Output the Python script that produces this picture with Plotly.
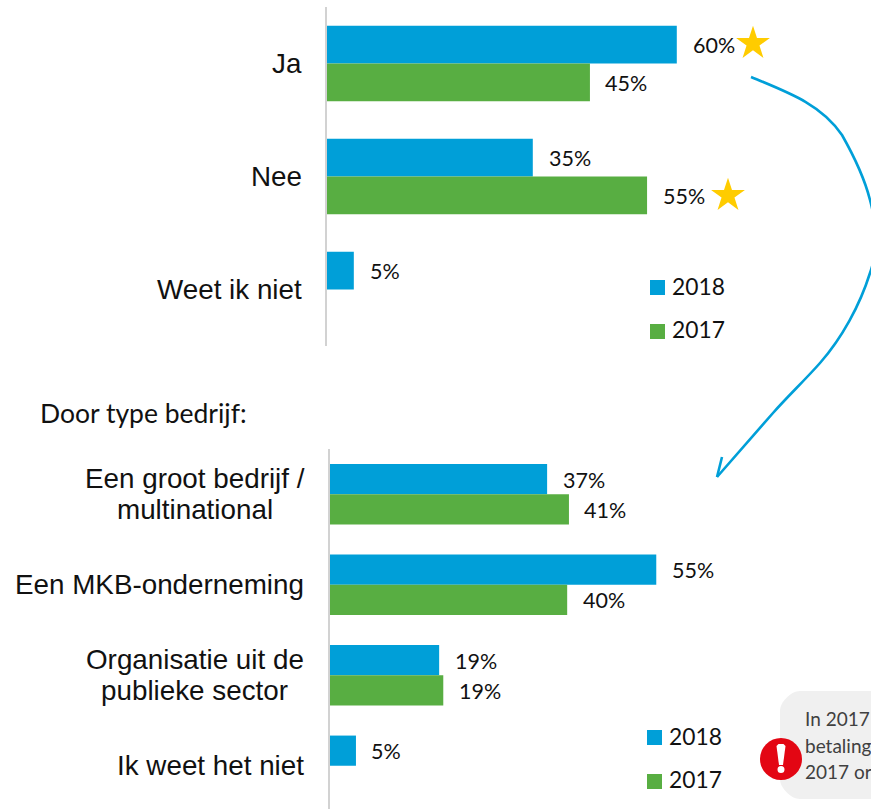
import math
import plotly.graph_objects as go

W, H = 871, 809
BLUE, GREEN = "#009FD8", "#58AE42"
STAR = "#FFCC00"
AXIS = "#D2D2D2"
SANS = "Liberation Sans"
CAL = "Lato"

series = ["2018", "2017"]
top_cats = ["Ja", "Nee", "Weet ik niet"]
top_2018 = [60.0, 35.3, 4.6]
top_2017 = [45.1, 54.9, None]
top_text_2018 = ["60%", "35%", "5%"]
top_text_2017 = ["45%", "55%", ""]

bot_cats = ["Een groot bedrijf / multinational", "Een MKB-onderneming",
            "Organisatie uit de publieke sector", "Ik weet het niet"]
bot_lines = [["Een groot bedrijf /", "multinational"], ["Een MKB-onderneming"],
             ["Organisatie uit de", "publieke sector"], ["Ik weet het niet"]]
bot_2018 = [36.8, 55.3, 18.5, 4.4]
bot_2017 = [40.5, 40.2, 19.2, None]
bot_text_2018 = ["37%", "55%", "19%", "5%"]
bot_text_2017 = ["41%", "40%", "19%", ""]

heading = "Door type bedrijf:"
note_lines = ["In 2017", "betaling", "2017 or"]


def px(x):
    return x / W


def py(y):
    return 1 - y / H


fig = go.Figure()
for ax, cats, v18, v17 in [("", top_cats, top_2018, top_2017), ("2", bot_cats, bot_2018, bot_2017)]:
    for name, vals, col in [(series[0], v18, BLUE), (series[1], v17, GREEN)]:
        fig.add_bar(y=cats, x=vals, name=name, orientation="h", marker=dict(color=col, line_width=0),
                    xaxis="x" + ax, yaxis="y" + ax, showlegend=False)

ann = []


def text(x, y, t, size, font=CAL, color="#111111", anchor="left"):
    ann.append(dict(x=px(x), y=py(y), xref="paper", yref="paper", text=t, showarrow=False, xanchor=anchor,
                    yanchor="middle", borderpad=0, font=dict(family=font, size=size, color=color)))


def values(cats, vals, labels, shift, xref, yref, gap):
    for c, v, t in zip(cats, vals, labels):
        if v is None:
            continue
        ann.append(dict(x=v, y=c, xref=xref, yref=yref, text=t, showarrow=False, xanchor="left", yanchor="middle",
                        xshift=gap, yshift=shift, borderpad=0, font=dict(family=CAL, size=21.5, color="#111111")))


values(top_cats, top_2018, top_text_2018, 19, "x", "y", 15)
values(top_cats, top_2017, top_text_2017, -19, "x", "y", 14.5)
values(bot_cats, bot_2018, bot_text_2018, 14.3, "x2", "y2", 14.5)
values(bot_cats, bot_2017, bot_text_2017, -15.7, "x2", "y2", 14.5)

for c in top_cats:
    ann.append(dict(x=px(303), y=c, xref="paper", yref="y", text=c, showarrow=False, xanchor="right",
                    yanchor="middle", borderpad=0, font=dict(family=SANS, size=27.8, color="#111111")))
for c, lines in zip(bot_cats, bot_lines):
    if len(lines) == 1:
        ann.append(dict(x=px(304.5), y=c, xref="paper", yref="y2", text=lines[0], showarrow=False, xanchor="right",
                        yanchor="middle", borderpad=0, font=dict(family=SANS, size=27.8, color="#111111")))
    else:
        for line, s in zip(lines, [15.5, -15.5]):
            ann.append(dict(x=px(194.5), y=c, xref="paper", yref="y2", text=line, showarrow=False, xanchor="center",
                            yanchor="middle", yshift=s, borderpad=0,
                            font=dict(family=SANS, size=27.8, color="#111111")))

text(39, 413, heading, 26.5)
text(671, 286, series[0], 22.8)
text(671, 329, series[1], 22.8)
text(668, 736, series[0], 22.8)
text(668, 779, series[1], 22.8)
for line, y in zip(note_lines, [718, 745, 771]):
    text(804, y, line, 19, color="#404040")


def poly(points):
    return "M" + " L".join(f"{px(x):.5f},{py(y):.5f}" for x, y in points) + " Z"


def star(cx, cy, r):
    pts = []
    for i in range(10):
        a = -math.pi / 2 + i * math.pi / 5
        rr = r if i % 2 == 0 else r * 0.382
        pts.append((cx + rr * math.cos(a), cy + rr * math.sin(a)))
    return poly(pts)


def rect(x0, y0, x1, y1, col):
    return dict(type="rect", xref="paper", yref="paper", x0=px(x0), x1=px(x1), y0=py(y0), y1=py(y1),
                fillcolor=col, line_width=0)


def curve(cmds):
    out = []
    for c, pts in cmds:
        out.append(c + " ".join(f"{px(x):.5f},{py(y):.5f}" for x, y in pts))
    return " ".join(out)


r = 20
x0, y0, x1, y1 = 780, 691, 900, 799
k = r * 0.45
box = curve([("M", [(x0 + r, y0)]), ("L", [(x1, y0)]), ("L", [(x1, y1)]), ("L", [(x0 + r, y1)]),
             ("C", [(x0 + r - k, y1), (x0, y1 - r + k), (x0, y1 - r)]), ("L", [(x0, y0 + r)]),
             ("C", [(x0, y0 + r - k), (x0 + r - k, y0), (x0 + r, y0)])]) + " Z"

arrow = curve([("M", [(751, 77)]),
               ("C", [(790, 93), (822, 105), (842, 135)]),
               ("C", [(855, 158), (865, 180), (870, 200)]),
               ("C", [(878, 230), (878, 250), (870, 273)]),
               ("C", [(860, 305), (842, 338), (820, 363)]),
               ("C", [(805, 380), (787, 397), (773, 413)]),
               ("L", [(717, 477)])])
head = curve([("M", [(722, 457)]), ("L", [(717, 477), (736, 470)])])

shapes = [
    rect(650, 280, 665, 295, BLUE), rect(650, 324, 665, 339, GREEN),
    rect(647, 730, 662, 745, BLUE), rect(647, 774, 662, 789, GREEN),
    dict(type="path", xref="paper", yref="paper", path=star(753, 43.5, 17.8), fillcolor=STAR, line_width=0),
    dict(type="path", xref="paper", yref="paper", path=star(728, 195.5, 17.8), fillcolor=STAR, line_width=0),
    dict(type="path", xref="paper", yref="paper", path=arrow, line=dict(color=BLUE, width=2.6)),
    dict(type="path", xref="paper", yref="paper", path=head, line=dict(color=BLUE, width=2.6)),
    dict(type="path", xref="paper", yref="paper", path=box, fillcolor="#F0F0F0", line_width=0),
    dict(type="circle", xref="paper", yref="paper", x0=px(760), x1=px(802), y0=py(738), y1=py(780),
         fillcolor="#E30613", line_width=0),
    dict(type="path", xref="paper", yref="paper",
         path=poly([(776.5, 746), (778.5, 744), (783.5, 744), (785.5, 746), (783, 765), (779, 765)]),
         fillcolor="white", line_width=0),
    dict(type="circle", xref="paper", yref="paper", x0=px(777.5), x1=px(784.5), y0=py(766), y1=py(773),
         fillcolor="white", line_width=0),
]

fig.update_layout(
    width=W, height=H, margin=dict(l=0, r=0, t=0, b=0), paper_bgcolor="white", plot_bgcolor="white",
    barmode="group", bargap=0.333, bargroupgap=0,
    annotations=ann, shapes=shapes,
    xaxis=dict(domain=[px(327), 1], range=[0, (W - 327) / 5.83], visible=False),
    yaxis=dict(domain=[py(346), py(7)], categoryorder="array", categoryarray=top_cats,
               range=[2.5, -0.5], showline=True, linecolor=AXIS, linewidth=2, ticks="", showticklabels=False,
               showgrid=False, zeroline=False),
    xaxis2=dict(domain=[px(330), 1], range=[0, (W - 330) / 5.9], visible=False, anchor="y2"),
    yaxis2=dict(domain=[0, py(449)], categoryorder="array", categoryarray=bot_cats, anchor="x2",
                range=[-0.5 + 360 / 90.5, -0.5], showline=True, linecolor=AXIS, linewidth=2, ticks="",
                showticklabels=False, showgrid=False, zeroline=False),
)
fig.write_html("out.html", config={"displayModeBar": False},
               post_script="document.body.style.margin='0';document.documentElement.style.overflow='hidden';")
